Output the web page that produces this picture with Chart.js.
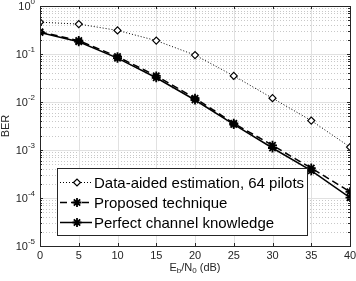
<!DOCTYPE html>
<html>
<head>
<meta charset="utf-8">
<script src="https://cdn.jsdelivr.net/npm/chart.js@4.4.1/dist/chart.umd.min.js"></script>
<style>
  html, body { margin: 0; padding: 0; background: #fff; }
  #wrap { width: 356px; height: 281px; }
</style>
</head>
<body>
<div id="wrap"><canvas id="berChart" width="356" height="281"></canvas></div>
<script>
// Eb/N0 (dB)
const snrValues = [0, 5, 10, 15, 20, 25, 30, 35, 40];
const dataAided = [0.46, 0.42, 0.31, 0.19, 0.095, 0.035, 0.012, 0.0041, 0.00115];
const proposed = [0.29, 0.19, 0.088, 0.035, 0.012, 0.0036, 0.00125, 0.00042, 0.000135];
const perfect = [0.28, 0.18, 0.082, 0.032, 0.011, 0.0034, 0.0011, 0.00037, 0.000102];
const seriesNames = ["Data-aided estimation, 64 pilots", "Proposed technique", "Perfect channel knowledge"];
const xTicks = [0, 5, 10, 15, 20, 25, 30, 35, 40];
const yExponents = [0, -1, -2, -3, -4, -5];

const FONT = "Liberation Sans, Arial, Helvetica, sans-serif";

function toPoints(ys) {
    return snrValues.map((x, i) => ({ x: x, y: ys[i] }));
}

const datasets = [
    {
        label: seriesNames[0],
        data: toPoints(dataAided),
        borderColor: "#000",
        borderWidth: 1,
        borderDash: [1, 2],
        pointStyle: "rectRot",
        pointRadius: 3.5,
        pointBackgroundColor: "#fff",
        pointBorderColor: "#000",
        pointBorderWidth: 1.2
    },
    {
        label: seriesNames[1],
        data: toPoints(proposed),
        borderColor: "#000",
        borderWidth: 1.5,
        borderDash: [7, 4],
        pointStyle: "star",
        pointRadius: 4.5,
        pointBorderColor: "#000",
        pointBorderWidth: 1.8
    },
    {
        label: seriesNames[2],
        data: toPoints(perfect),
        borderColor: "#000",
        borderWidth: 1.5,
        pointStyle: "star",
        pointRadius: 4.5,
        pointBorderColor: "#000",
        pointBorderWidth: 1.8
    }
];

// grid, frame, ticks, labels, legend in MATLAB style
const matlabAxes = {
    id: "matlabAxes",
    beforeDatasetsDraw(chart) {
        const ctx = chart.ctx;
        const area = chart.chartArea;
        const xs = chart.scales.x;
        const ys = chart.scales.y;
        ctx.save();
        ctx.lineWidth = 1;
        // minor y grid (dotted)
        ctx.strokeStyle = "#c8c8c8";
        ctx.setLineDash([1, 2]);
        for (let k = 0; k > -5; k--) {
            for (let m = 2; m <= 9; m++) {
                const y = Math.round(ys.getPixelForValue(m * Math.pow(10, k - 1))) + 0.5;
                ctx.beginPath();
                ctx.moveTo(area.left, y);
                ctx.lineTo(area.right, y);
                ctx.stroke();
            }
        }
        ctx.setLineDash([]);
        // major grid
        ctx.strokeStyle = "#e1e1e1";
        yExponents.forEach((e) => {
            const y = Math.round(ys.getPixelForValue(Math.pow(10, e))) + 0.5;
            ctx.beginPath();
            ctx.moveTo(area.left, y);
            ctx.lineTo(area.right, y);
            ctx.stroke();
        });
        xTicks.forEach((t) => {
            const x = Math.round(xs.getPixelForValue(t)) + 0.5;
            ctx.beginPath();
            ctx.moveTo(x, area.top);
            ctx.lineTo(x, area.bottom);
            ctx.stroke();
        });
        ctx.restore();
    },
    afterDatasetsDraw(chart) {
        const ctx = chart.ctx;
        const area = chart.chartArea;
        const xs = chart.scales.x;
        const ys = chart.scales.y;
        ctx.save();
        ctx.strokeStyle = "#262626";
        ctx.lineWidth = 1;
        // frame
        ctx.strokeRect(Math.round(area.left) + 0.5, Math.round(area.top) + 0.5,
            Math.round(area.right - area.left), Math.round(area.bottom - area.top));
        // ticks
        ctx.beginPath();
        xTicks.forEach((t) => {
            const x = Math.round(xs.getPixelForValue(t)) + 0.5;
            ctx.moveTo(x, area.bottom); ctx.lineTo(x, area.bottom - 3);
            ctx.moveTo(x, area.top); ctx.lineTo(x, area.top + 3);
        });
        for (let k = 0; k >= -5; k--) {
            for (let m = 1; m <= 9; m++) {
                if (k === -5 && m > 1) continue;
                const v = m === 1 ? Math.pow(10, k) : m * Math.pow(10, k - 1);
                if (v > 1) continue;
                const y = Math.round(ys.getPixelForValue(v)) + 0.5;
                const len = m === 1 ? 3 : 2;
                ctx.moveTo(area.left, y); ctx.lineTo(area.left + len, y);
                ctx.moveTo(area.right, y); ctx.lineTo(area.right - len, y);
            }
        }
        ctx.stroke();

        // tick labels
        ctx.fillStyle = "#262626";
        ctx.font = "11px " + FONT;
        ctx.textAlign = "center";
        ctx.textBaseline = "middle";
        xTicks.forEach((t) => {
            ctx.fillText(String(t), xs.getPixelForValue(t), area.bottom + 9.5);
        });
        yExponents.forEach((e) => {
            const y = ys.getPixelForValue(Math.pow(10, e));
            const sup = e === 0 ? "0" : "-" + Math.abs(e);
            ctx.font = "8px " + FONT;
            const supW = ctx.measureText(sup).width;
            const right = area.left - 5;
            ctx.textAlign = "right";
            ctx.fillText(sup, right, y - 4);
            ctx.font = "11px " + FONT;
            ctx.fillText("10", right - supW, y + 1);
        });

        // axis titles
        ctx.textAlign = "left";
        const parts = [["E", 11, 0], ["b", 8, 3], ["/N", 11, 0], ["0", 8, 3], [" (dB)", 11, 0]];
        let total = 0;
        parts.forEach((p) => { ctx.font = p[1] + "px " + FONT; total += ctx.measureText(p[0]).width; });
        let px = (area.left + area.right) / 2 - total / 2;
        const ty = area.bottom + 22;
        parts.forEach((p) => {
            ctx.font = p[1] + "px " + FONT;
            ctx.fillText(p[0], px, ty + p[2]);
            px += ctx.measureText(p[0]).width;
        });
        ctx.save();
        ctx.translate(6, (area.top + area.bottom) / 2);
        ctx.rotate(-Math.PI / 2);
        ctx.textAlign = "center";
        ctx.font = "11px " + FONT;
        ctx.fillText("BER", 0, 0);
        ctx.restore();

        // legend box
        const lx = 57.5, ly = 168.5, lw = 250, lh = 67;
        ctx.fillStyle = "#fff";
        ctx.fillRect(lx, ly, lw, lh);
        ctx.strokeStyle = "#262626";
        ctx.lineWidth = 1;
        ctx.strokeRect(lx, ly, lw, lh);
        const rowY = [182.5, 202.5, 222.5];
        chart.data.datasets.forEach((ds, i) => {
            const y = rowY[i];
            ctx.save();
            ctx.strokeStyle = "#000";
            ctx.lineWidth = ds.borderWidth;
            ctx.setLineDash(ds.borderDash || []);
            ctx.beginPath();
            ctx.moveTo(60, y);
            ctx.lineTo(92, y);
            ctx.stroke();
            ctx.setLineDash([]);
            ctx.fillStyle = ds.pointBackgroundColor || "#000";
            ctx.lineWidth = ds.pointBorderWidth;
            Chart.helpers.drawPoint(ctx, {
                pointStyle: ds.pointStyle,
                radius: ds.pointRadius,
                rotation: 0,
                borderWidth: ds.pointBorderWidth
            }, 77, y);
            ctx.restore();
            ctx.fillStyle = "#000";
            ctx.font = "15px " + FONT;
            ctx.textAlign = "left";
            ctx.textBaseline = "middle";
            ctx.fillText(ds.label, 94, y + 1);
        });
        ctx.restore();
    }
};

const ctx = document.getElementById("berChart").getContext("2d");
new Chart(ctx, {
    type: "line",
    data: { datasets: datasets },
    options: {
        responsive: false,
        animation: false,
        layout: { padding: { top: 6, right: 6, left: 0, bottom: 0 }, autoPadding: false },
        plugins: {
            legend: { display: false },
            tooltip: { enabled: false }
        },
        scales: {
            x: {
                type: "linear",
                min: 0,
                max: 40,
                ticks: { display: false },
                grid: { display: false },
                border: { display: false },
                afterFit: (scale) => { scale.height = 35; }
            },
            y: {
                type: "logarithmic",
                min: 1e-5,
                max: 1,
                ticks: { display: false },
                grid: { display: false },
                border: { display: false },
                afterFit: (scale) => { scale.width = 40; }
            }
        }
    },
    plugins: [matlabAxes]
});
</script>
</body>
</html>
